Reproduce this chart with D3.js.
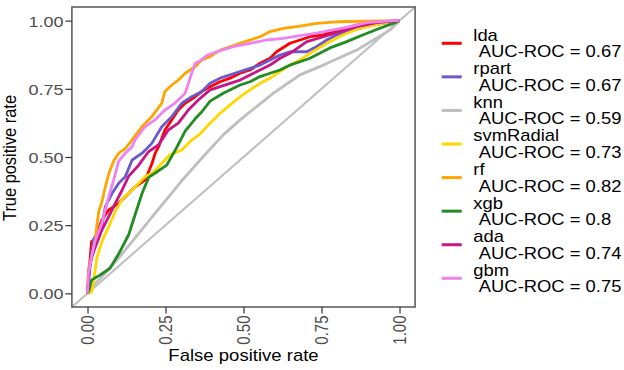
<!DOCTYPE html>
<html>
<head>
<meta charset="utf-8">
<script src="https://cdn.jsdelivr.net/npm/d3@7"></script>
<style>
  body { margin: 0; background: #fff; }
  text { font-family: "Liberation Sans", Arial, sans-serif; }
</style>
</head>
<body>
<svg id="chart" width="624" height="370"></svg>
<script>
// models, in legend order
const models = ['lda', 'rpart', 'knn', 'svmRadial', 'rf', 'xgb', 'ada', 'gbm'];
const aucValues = ['0.67', '0.67', '0.59', '0.73', '0.82', '0.8', '0.74', '0.75'];
const colours = ['#FF0000', '#6A5ACD', '#BEBEBE', '#FFD700', '#FFA500', '#228B22', '#C71585', '#EE82EE'];
const xTicks = [0, 0.25, 0.5, 0.75, 1];
const yTicks = [0, 0.25, 0.5, 0.75, 1];

// ROC points (false positive rate / true positive rate)
const ldaFpr = [0, 0.005, 0.013, 0.025, 0.046, 0.068, 0.1, 0.121, 0.153, 0.185, 0.207, 0.217, 0.228, 0.248, 0.27, 0.291, 0.313, 0.345, 0.366, 0.393, 0.425, 0.457, 0.489, 0.521, 0.553, 0.585, 0.606, 0.649, 0.681, 0.713, 0.756, 0.809, 0.863, 0.93, 1];
const ldaTpr = [0, 0.08, 0.19, 0.2, 0.269, 0.306, 0.33, 0.354, 0.391, 0.416, 0.477, 0.514, 0.538, 0.599, 0.636, 0.672, 0.697, 0.721, 0.74, 0.758, 0.776, 0.789, 0.807, 0.819, 0.844, 0.862, 0.886, 0.917, 0.929, 0.941, 0.948, 0.966, 0.984, 0.994, 1];

const rpartFpr = [0, 0.008, 0.02, 0.046, 0.057, 0.079, 0.1, 0.121, 0.143, 0.175, 0.206, 0.238, 0.27, 0.302, 0.334, 0.366, 0.393, 0.425, 0.457, 0.489, 0.521, 0.553, 0.585, 0.617, 0.649, 0.703, 0.735, 0.767, 0.799, 0.852, 0.916, 1];
const rpartTpr = [0, 0.1, 0.2, 0.244, 0.318, 0.367, 0.404, 0.428, 0.489, 0.514, 0.55, 0.611, 0.648, 0.697, 0.721, 0.74, 0.77, 0.789, 0.801, 0.813, 0.825, 0.837, 0.856, 0.874, 0.886, 0.886, 0.905, 0.929, 0.948, 0.966, 0.984, 1];

const knnFpr = [0, 0.02, 0.05, 0.1, 0.15, 0.2, 0.25, 0.3, 0.361, 0.435, 0.489, 0.542, 0.596, 0.649, 0.681, 0.756, 0.863, 0.97, 1];
const knnTpr = [0, 0.03, 0.065, 0.13, 0.2, 0.27, 0.34, 0.41, 0.489, 0.581, 0.636, 0.685, 0.734, 0.776, 0.801, 0.837, 0.892, 0.966, 1];

const svmFpr = [0, 0.013, 0.019, 0.03, 0.046, 0.068, 0.089, 0.111, 0.143, 0.164, 0.185, 0.207, 0.232, 0.264, 0.302, 0.334, 0.361, 0.393, 0.425, 0.457, 0.489, 0.521, 0.553, 0.585, 0.617, 0.649, 0.681, 0.713, 0.767, 0.82, 0.873, 0.937, 1];
const svmTpr = [0, 0.005, 0.04, 0.13, 0.19, 0.245, 0.3, 0.345, 0.379, 0.404, 0.428, 0.44, 0.47, 0.507, 0.526, 0.562, 0.585, 0.624, 0.66, 0.691, 0.721, 0.746, 0.77, 0.789, 0.813, 0.837, 0.856, 0.88, 0.917, 0.948, 0.972, 0.988, 1];

const rfFpr = [0, 0.003, 0.013, 0.024, 0.03, 0.036, 0.046, 0.057, 0.07, 0.084, 0.1, 0.12, 0.142, 0.174, 0.206, 0.238, 0.248, 0.27, 0.291, 0.313, 0.345, 0.366, 0.393, 0.425, 0.489, 0.553, 0.585, 0.628, 0.681, 0.735, 0.809, 0.895, 1];
const rfTpr = [0, 0.09, 0.13, 0.19, 0.25, 0.3, 0.335, 0.39, 0.445, 0.485, 0.514, 0.53, 0.562, 0.611, 0.648, 0.697, 0.74, 0.764, 0.782, 0.807, 0.831, 0.856, 0.868, 0.892, 0.917, 0.941, 0.96, 0.972, 0.98, 0.99, 0.996, 0.998, 1];

const xgbFpr = [0, 0.005, 0.013, 0.04, 0.072, 0.1, 0.132, 0.153, 0.175, 0.196, 0.222, 0.254, 0.286, 0.313, 0.345, 0.366, 0.393, 0.435, 0.489, 0.521, 0.553, 0.585, 0.617, 0.649, 0.713, 0.777, 0.831, 0.884, 0.937, 0.98, 1];
const xgbTpr = [0, 0.012, 0.049, 0.067, 0.092, 0.145, 0.215, 0.29, 0.367, 0.425, 0.445, 0.47, 0.535, 0.595, 0.64, 0.665, 0.705, 0.734, 0.764, 0.776, 0.795, 0.807, 0.819, 0.837, 0.862, 0.9, 0.923, 0.948, 0.972, 0.99, 1];

const adaFpr = [0, 0.005, 0.013, 0.025, 0.046, 0.068, 0.089, 0.111, 0.132, 0.164, 0.196, 0.228, 0.259, 0.291, 0.323, 0.355, 0.393, 0.425, 0.457, 0.489, 0.521, 0.553, 0.585, 0.617, 0.649, 0.703, 0.756, 0.809, 0.863, 0.927, 1];
const adaTpr = [0, 0.08, 0.13, 0.17, 0.232, 0.281, 0.33, 0.379, 0.43, 0.47, 0.52, 0.545, 0.599, 0.624, 0.672, 0.709, 0.746, 0.758, 0.77, 0.782, 0.801, 0.819, 0.837, 0.862, 0.88, 0.923, 0.941, 0.96, 0.978, 0.993, 1];

const gbmFpr = [0, 0.003, 0.013, 0.024, 0.03, 0.046, 0.057, 0.068, 0.084, 0.1, 0.121, 0.143, 0.152, 0.184, 0.216, 0.248, 0.28, 0.313, 0.334, 0.345, 0.366, 0.382, 0.414, 0.467, 0.521, 0.574, 0.628, 0.681, 0.735, 0.788, 0.841, 0.895, 0.98, 1];
const gbmTpr = [0, 0.073, 0.134, 0.19, 0.21, 0.257, 0.306, 0.354, 0.416, 0.485, 0.514, 0.538, 0.562, 0.611, 0.636, 0.672, 0.697, 0.734, 0.807, 0.844, 0.856, 0.872, 0.886, 0.905, 0.917, 0.929, 0.935, 0.945, 0.954, 0.966, 0.978, 0.993, 1, 1];

const fprs = [ldaFpr, rpartFpr, knnFpr, svmFpr, rfFpr, xgbFpr, adaFpr, gbmFpr];
const tprs = [ldaTpr, rpartTpr, knnTpr, svmTpr, rfTpr, xgbTpr, adaTpr, gbmTpr];

const svg = d3.select('#chart');
const panel = { left: 71.9, right: 415.1, top: 7, bottom: 307 };

const x = d3.scaleLinear().domain([-0.05, 1.05]).range([panel.left, panel.right]);
const y = d3.scaleLinear().domain([-0.05, 1.05]).range([panel.bottom, panel.top]);

// text in the picture is wider than it is tall
function place(sel, px, py, sx, rot) {
  sel.attr('x', 0).attr('y', 0)
    .attr('transform', 'translate(' + px + ',' + py + ') scale(' + sx + ',1)' + (rot ? ' rotate(' + rot + ')' : ''));
}

// reference diagonal, corner to corner
svg.append('line')
  .attr('x1', x(-0.05)).attr('y1', y(-0.05))
  .attr('x2', x(1.05)).attr('y2', y(1.05))
  .attr('stroke', '#BEBEBE')
  .attr('stroke-width', 2);

const line = d3.line()
  .x(d => x(d[0]))
  .y(d => y(d[1]));

models.forEach((m, i) => {
  const pts = fprs[i].map((f, j) => [f, tprs[i][j]]);
  svg.append('path')
    .datum(pts)
    .attr('d', line)
    .attr('fill', 'none')
    .attr('stroke', colours[i])
    .attr('stroke-width', 2.8)
    .attr('stroke-linejoin', 'round');
});

// panel border
svg.append('rect')
  .attr('x', panel.left).attr('y', panel.top)
  .attr('width', panel.right - panel.left)
  .attr('height', panel.bottom - panel.top)
  .attr('fill', 'none')
  .attr('stroke', '#555')
  .attr('stroke-width', 1.5);

// y axis
const yAxis = svg.append('g')
  .attr('transform', 'translate(' + panel.left + ',0)')
  .call(d3.axisLeft(y).tickValues(yTicks).tickFormat(d3.format('.2f')).tickSize(6.5).tickPadding(2));
yAxis.select('.domain').remove();
yAxis.selectAll('.tick line').attr('stroke', '#333').attr('stroke-width', 1.2);
yAxis.selectAll('.tick text')
  .attr('font-size', 15)
  .attr('fill', '#4D4D4D')
  .attr('text-anchor', 'end')
  .attr('dy', '0.36em')
  .each(function () { place(d3.select(this), -8.5, 0, 1.2); });

// x axis
const xAxis = svg.append('g')
  .attr('transform', 'translate(0,' + panel.bottom + ')')
  .call(d3.axisBottom(x).tickValues(xTicks).tickFormat(d3.format('.2f')).tickSize(6.5).tickPadding(2));
xAxis.select('.domain').remove();
xAxis.selectAll('.tick line').attr('stroke', '#333').attr('stroke-width', 1.2);
xAxis.selectAll('.tick text')
  .attr('font-size', 15)
  .attr('fill', '#4D4D4D')
  .attr('text-anchor', 'end')
  .attr('dy', '0.36em')
  .each(function () { place(d3.select(this), 0, 8.5, 1.2, -90); });

// axis titles
svg.append('text')
  .attr('font-size', 16.4)
  .attr('text-anchor', 'middle')
  .attr('fill', '#000')
  .text('False positive rate')
  .call(place, (panel.left + panel.right) / 2, 361, 1.13);

svg.append('text')
  .attr('font-size', 16.4)
  .attr('text-anchor', 'middle')
  .attr('fill', '#000')
  .text('True positive rate')
  .call(place, 16.3, (panel.top + panel.bottom) / 2 + 1, 1.13, -90);

// legend
const legend = svg.append('g');
models.forEach((m, i) => {
  const ky = 43.3 + i * 33.57;
  legend.append('line')
    .attr('x1', 441.7).attr('x2', 461.7)
    .attr('y1', ky).attr('y2', ky)
    .attr('stroke', colours[i])
    .attr('stroke-width', 3);
  legend.append('text')
    .attr('font-size', 16)
    .attr('fill', '#000')
    .text(m)
    .call(place, 473.3, ky - 2.6, 1.15);
  legend.append('text')
    .attr('font-size', 16)
    .attr('fill', '#000')
    .text('AUC-ROC = ' + aucValues[i])
    .call(place, 478.8, ky + 14, 1.15);
});
</script>
</body>
</html>
